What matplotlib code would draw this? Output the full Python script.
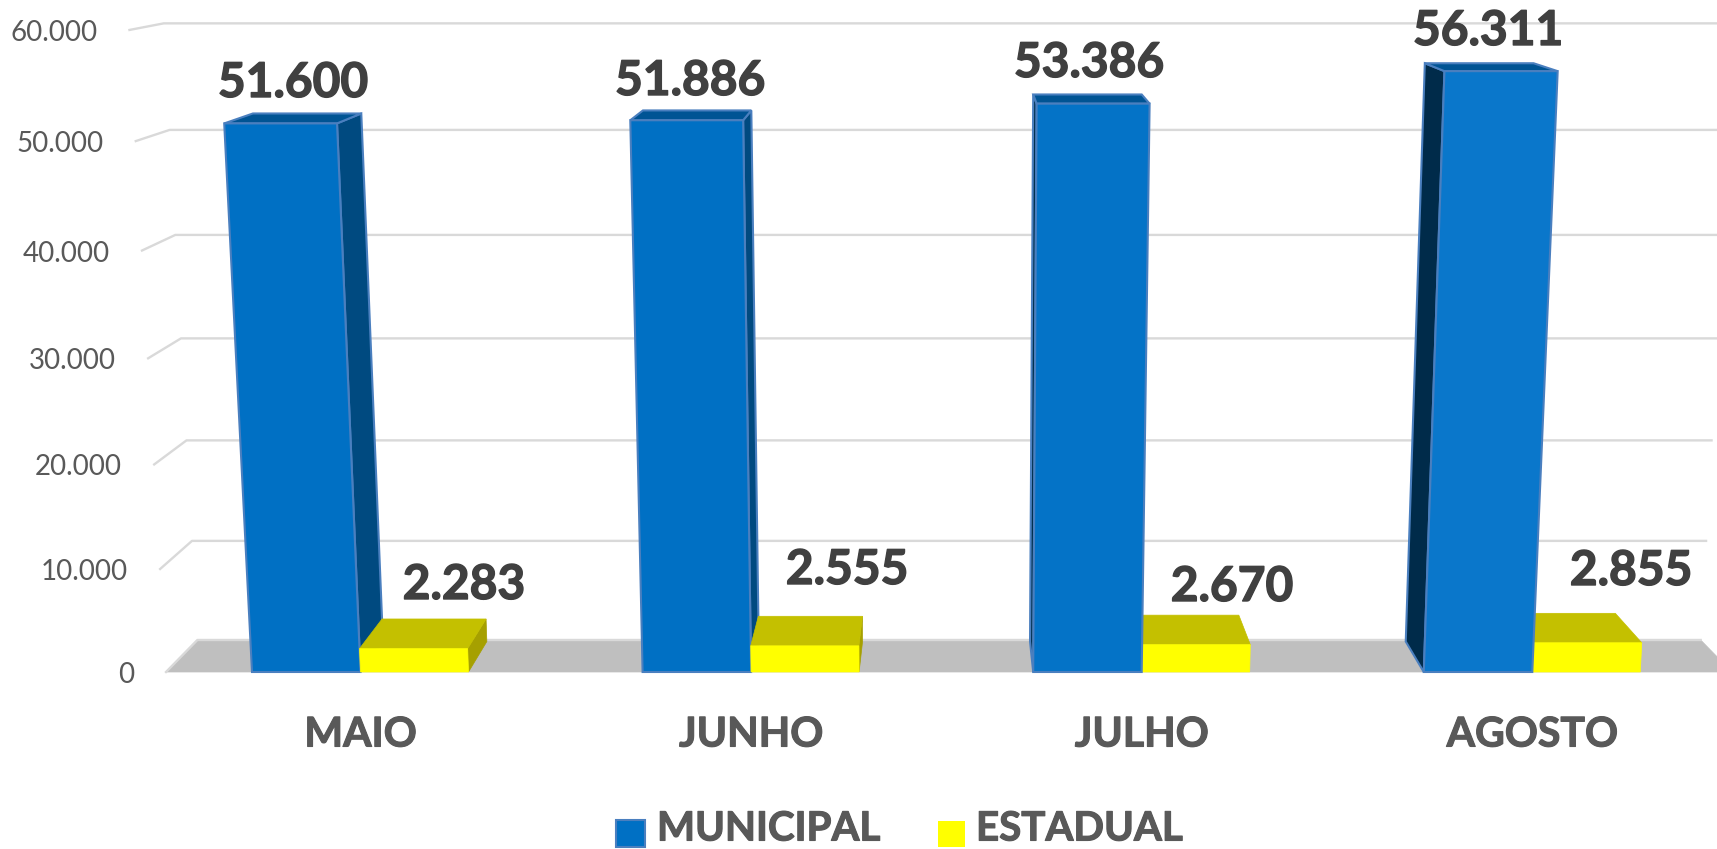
import matplotlib
matplotlib.use('Agg')
import matplotlib.pyplot as plt
import matplotlib.patheffects as pe
from matplotlib.patches import Polygon, Rectangle

plt.rcParams['font.family'] = ['Lato', 'DejaVu Sans']

months = ['MAIO', 'JUNHO', 'JULHO', 'AGOSTO']
municipal = [51600, 51886, 53386, 56311]
estadual = [2283, 2555, 2670, 2855]
ticks = [0, 10000, 20000, 30000, 40000, 50000, 60000]
tick_labels = ['0', '10.000', '20.000', '30.000', '40.000', '50.000', '60.000']

# where the number labels sit, pixels
municipal_label_xy = [(293, 83), (690, 81), (1089, 63), (1488, 31)]
estadual_label_xy = [(464, 585), (847, 570), (1232, 587), (1631, 571)]

# per-bar shades, the lighting changes along the chart
blue_front = ['#0070C4', '#0070C4', '#0473C7', '#0A77CB']
blue_side = ['#004A80', '#004A80', '#00304F', '#002B4A']
blue_top = '#005494'
blue_edge = '#4A7FBF'
yellow_front = '#FFFF00'
yellow_top = '#C4C000'
yellow_side = '#A6A000'

# perspective of the 3d chart
cx = 950.0
vy = -128.0
H = 800.0
A = 108.18
k = 0.00742
q = 0.0417


def project(xw, v, z):
    v10 = v / 10000.0
    w = 1 - k * v10 + q * z
    return cx + xw / w, vy + (H - A * v10) / w


def face(ax, corners, color, edge=None, zorder=3):
    pts = [project(*c) for c in corners]
    ax.add_patch(Polygon(pts, closed=True, facecolor=color,
                         edgecolor=edge if edge else color,
                         linewidth=1.5 if edge else 0.5, zorder=zorder))


def bar(ax, x0, x1, v, depth, front, top, side, edge, zorder):
    # side wall that faces the middle of the chart
    if x1 < 0:
        face(ax, [(x1, 0, 0), (x1, v, 0), (x1, v, depth), (x1, 0, depth)], side, edge, zorder)
    elif x0 > 0:
        face(ax, [(x0, 0, 0), (x0, v, 0), (x0, v, depth), (x0, 0, depth)], side, edge, zorder)
    face(ax, [(x0, v, 0), (x1, v, 0), (x1, v, depth), (x0, v, depth)], top, edge, zorder)
    face(ax, [(x0, 0, 0), (x1, 0, 0), (x1, v, 0), (x0, v, 0)], front, edge, zorder)


fig = plt.figure(figsize=(17.17, 8.49), dpi=100)
ax = fig.add_axes([0, 0, 1, 1])
ax.set_xlim(0, 1717)
ax.set_ylim(849, 0)
ax.axis('off')

wall_left = -784
wall_right = 782
group_first = 360.5 - cx
group_step = 390.6
blue_w = 108.5
yellow_w = 108
depth = 0.95

heavy = lambda c, w: [pe.withStroke(linewidth=w, foreground=c)]

# floor
face(ax, [(wall_left, 0, 0), (wall_right, 0, 0), (wall_right, 0, 1), (wall_left, 0, 1)], '#BFBFBF', zorder=1)

# gridlines, back wall and the short bit on the left wall
for t, lab in zip(ticks, tick_labels):
    p0 = project(wall_left, t, 0)
    p1 = project(wall_left, t, 1)
    p2 = project(wall_right, t, 1)
    ax.plot([p0[0], p1[0], p2[0]], [p0[1], p1[1], p2[1]], color='#D9D9D9', lw=1.7, zorder=2)
    ax.text(p0[0] - 32, p0[1] + 3, lab, ha='right', va='center', fontsize=20, color='#595959')

for i in range(len(months)):
    mid = group_first + group_step * i
    if mid < 0:
        bar(ax, mid - blue_w, mid, municipal[i], depth, blue_front[i], blue_top, blue_side[i], blue_edge, 3 + i)
        bar(ax, mid, mid + yellow_w, estadual[i], depth, yellow_front, yellow_top, yellow_side, None, 3 + i)
    else:
        bar(ax, mid, mid + yellow_w, estadual[i], depth, yellow_front, yellow_top, yellow_side, None, 3 + i)
        bar(ax, mid - blue_w, mid, municipal[i], depth, blue_front[i], blue_top, blue_side[i], blue_edge, 3 + i)

    ax.text(cx + mid, 735, months[i], ha='center', va='center', fontsize=29.5, fontweight='bold', color='#595959',
            path_effects=heavy('#595959', 0.8))

    lx, ly = municipal_label_xy[i]
    ax.text(lx, ly, f'{municipal[i]:,}'.replace(',', '.'), ha='center', va='center',
            fontsize=34.5, fontweight='bold', color='#404040', zorder=20, path_effects=heavy('#404040', 1.0))
    lx, ly = estadual_label_xy[i]
    ax.text(lx, ly, f'{estadual[i]:,}'.replace(',', '.'), ha='center', va='center',
            fontsize=34.5, fontweight='bold', color='#404040', zorder=20, path_effects=heavy('#404040', 1.0))

# legend
ax.add_patch(Rectangle((616, 820), 29, 27, facecolor='#0070C4', edgecolor=blue_edge, lw=1.5))
ax.text(657, 829, 'MUNICIPAL', ha='left', va='center', fontsize=29, fontweight='bold', color='#595959',
        path_effects=heavy('#595959', 0.8))
ax.add_patch(Rectangle((938, 821), 27, 26, facecolor=yellow_front, edgecolor='none'))
ax.text(976, 829, 'ESTADUAL', ha='left', va='center', fontsize=29, fontweight='bold', color='#595959',
        path_effects=heavy('#595959', 0.8))

fig.savefig('out.png', dpi=100)
